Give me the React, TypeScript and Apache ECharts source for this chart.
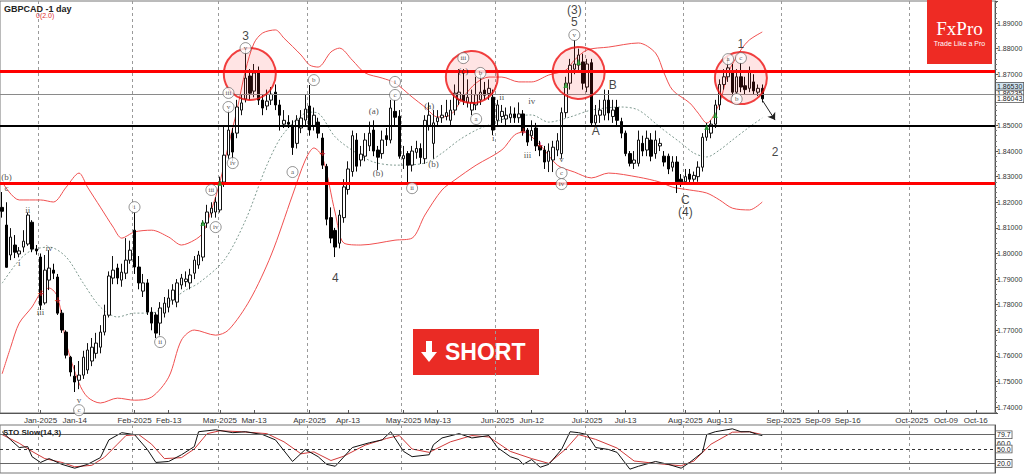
import React, { useEffect, useRef } from "react";
import * as echarts from "echarts";

// ---------- candles (GBPCAD daily) ----------
const openP = [
  1.8180, 1.8111, 1.7994, 1.8033, 1.7998, 1.8025, 1.8037, 1.8122, 1.8017, 1.7986,
  1.7807, 1.7896, 1.7935, 1.7908, 1.7767, 1.7693, 1.7595, 1.7521, 1.7505, 1.7525,
  1.7545, 1.7580, 1.7610, 1.7634, 1.7693, 1.7759, 1.7904, 1.7943, 1.7896, 1.7923,
  1.7974, 1.8091, 1.7947, 1.7853, 1.7885, 1.7771, 1.7760, 1.7728, 1.7767, 1.7790,
  1.7818, 1.7810, 1.7877, 1.7890, 1.7885, 1.7923, 1.7955, 1.7986, 1.8119, 1.8158,
  1.8162, 1.8170, 1.8279, 1.8384, 1.8470, 1.8470, 1.8560, 1.8603, 1.8693, 1.8634,
  1.8712, 1.8599, 1.8576, 1.8599, 1.8630, 1.8580, 1.8505, 1.8512, 1.8500, 1.8430,
  1.8490, 1.8521, 1.8576, 1.8500, 1.8513, 1.8451, 1.8340, 1.8140, 1.8090, 1.8040,
  1.8140, 1.8250, 1.8320, 1.8443, 1.8365, 1.8380, 1.8420, 1.8482, 1.8404, 1.8390,
  1.8460, 1.8443, 1.8555, 1.8536, 1.8370, 1.8390, 1.8345, 1.8395, 1.8410, 1.8370,
  1.8500, 1.8430, 1.8515, 1.8530, 1.8535, 1.8520, 1.8560, 1.8600, 1.8620, 1.8590,
  1.8560, 1.8580, 1.8600, 1.8638, 1.8625, 1.8610, 1.8520, 1.8535, 1.8525, 1.8530,
  1.8545, 1.8530, 1.8545, 1.8482, 1.8460, 1.8490, 1.8420, 1.8404, 1.8360, 1.8365,
  1.8404, 1.8390, 1.8550, 1.8665, 1.8720, 1.8735, 1.8748, 1.8650, 1.8745, 1.8510,
  1.8540, 1.8540, 1.8599, 1.8535, 1.8570, 1.8515, 1.8470, 1.8390, 1.8352, 1.8352,
  1.8430, 1.8404, 1.8443, 1.8390, 1.8420, 1.8380, 1.8380, 1.8337, 1.8357, 1.8290,
  1.8280, 1.8310, 1.8290, 1.8300, 1.8337, 1.8454, 1.8470, 1.8505, 1.8580, 1.8660,
  1.8690, 1.8710, 1.8630, 1.8690, 1.8655, 1.8645, 1.8670, 1.8630, 1.8645,
];
const highP = [
  1.8240, 1.8200, 1.8099, 1.8072, 1.8025, 1.8091, 1.8160, 1.8130, 1.8033, 1.8000,
  1.7994, 1.8013, 1.7960, 1.7920, 1.7780, 1.7700, 1.7600, 1.7564, 1.7580, 1.7620,
  1.7650, 1.7670, 1.7690, 1.7720, 1.7800, 1.7930, 1.7990, 1.7960, 1.7960, 1.8060,
  1.8050, 1.8162, 1.7990, 1.7920, 1.7900, 1.7790, 1.7770, 1.7810, 1.7830, 1.7860,
  1.7880, 1.7900, 1.7920, 1.7930, 1.7940, 1.7990, 1.8010, 1.8130, 1.8190, 1.8200,
  1.8220, 1.8300, 1.8500, 1.8560, 1.8490, 1.8600, 1.8620, 1.8802, 1.8720, 1.8740,
  1.8730, 1.8620, 1.8640, 1.8650, 1.8660, 1.8600, 1.8560, 1.8540, 1.8520, 1.8540,
  1.8560, 1.8620, 1.8658, 1.8570, 1.8530, 1.8470, 1.8350, 1.8180, 1.8100, 1.8170,
  1.8290, 1.8360, 1.8480, 1.8470, 1.8420, 1.8470, 1.8515, 1.8520, 1.8420, 1.8480,
  1.8490, 1.8600, 1.8600, 1.8560, 1.8420, 1.8400, 1.8420, 1.8440, 1.8430, 1.8540,
  1.8590, 1.8560, 1.8560, 1.8580, 1.8600, 1.8600, 1.8660, 1.8720, 1.8720, 1.8680,
  1.8640, 1.8690, 1.8700, 1.8670, 1.8680, 1.8640, 1.8600, 1.8580, 1.8570, 1.8575,
  1.8570, 1.8590, 1.8560, 1.8490, 1.8520, 1.8510, 1.8440, 1.8420, 1.8430, 1.8440,
  1.8470, 1.8570, 1.8690, 1.8760, 1.8834, 1.8800, 1.8780, 1.8760, 1.8760, 1.8580,
  1.8600, 1.8640, 1.8638, 1.8600, 1.8600, 1.8530, 1.8480, 1.8400, 1.8400, 1.8480,
  1.8460, 1.8480, 1.8470, 1.8480, 1.8450, 1.8400, 1.8390, 1.8380, 1.8380, 1.8310,
  1.8330, 1.8330, 1.8320, 1.8360, 1.8470, 1.8510, 1.8520, 1.8600, 1.8680, 1.8720,
  1.8770, 1.8740, 1.8720, 1.8745, 1.8690, 1.8730, 1.8700, 1.8660, 1.8660,
];
const lowP = [
  1.8140, 1.7950, 1.7974, 1.7982, 1.7985, 1.8005, 1.8030, 1.8005, 1.7995, 1.7779,
  1.7800, 1.7857, 1.7900, 1.7760, 1.7690, 1.7590, 1.7520, 1.7459, 1.7470, 1.7510,
  1.7530, 1.7560, 1.7590, 1.7610, 1.7680, 1.7750, 1.7880, 1.7880, 1.7870, 1.7900,
  1.7960, 1.7920, 1.7860, 1.7830, 1.7760, 1.7700, 1.7670, 1.7680, 1.7750, 1.7770,
  1.7800, 1.7790, 1.7860, 1.7870, 1.7860, 1.7900, 1.7940, 1.7970, 1.8100, 1.8140,
  1.8140, 1.8160, 1.8260, 1.8370, 1.8360, 1.8450, 1.8540, 1.8590, 1.8600, 1.8610,
  1.8580, 1.8540, 1.8560, 1.8580, 1.8560, 1.8480, 1.8490, 1.8490, 1.8385, 1.8410,
  1.8470, 1.8500, 1.8460, 1.8480, 1.8450, 1.8330, 1.8110, 1.8040, 1.7986, 1.8020,
  1.8120, 1.8230, 1.8300, 1.8320, 1.8340, 1.8360, 1.8400, 1.8380, 1.8326, 1.8370,
  1.8420, 1.8430, 1.8500, 1.8370, 1.8330, 1.8275, 1.8320, 1.8370, 1.8350, 1.8350,
  1.8480, 1.8370, 1.8500, 1.8510, 1.8520, 1.8500, 1.8540, 1.8580, 1.8580, 1.8570,
  1.8540, 1.8560, 1.8580, 1.8600, 1.8600, 1.8462, 1.8500, 1.8510, 1.8500, 1.8510,
  1.8510, 1.8510, 1.8460, 1.8420, 1.8440, 1.8400, 1.8380, 1.8330, 1.8318, 1.8318,
  1.8380, 1.8370, 1.8530, 1.8640, 1.8700, 1.8710, 1.8640, 1.8630, 1.8500, 1.8502,
  1.8510, 1.8520, 1.8520, 1.8510, 1.8500, 1.8450, 1.8380, 1.8340, 1.8330, 1.8340,
  1.8380, 1.8380, 1.8360, 1.8370, 1.8400, 1.8340, 1.8310, 1.8320, 1.8236, 1.8260,
  1.8270, 1.8270, 1.8280, 1.8280, 1.8320, 1.8440, 1.8450, 1.8490, 1.8560, 1.8640,
  1.8670, 1.8610, 1.8620, 1.8630, 1.8620, 1.8630, 1.8620, 1.8615, 1.8590,
];
const closeP = [
  1.8165, 1.7946, 1.8064, 1.8005, 1.8010, 1.8048, 1.8150, 1.8017, 1.8010, 1.7798,
  1.7935, 1.7943, 1.7923, 1.7767, 1.7701, 1.7603, 1.7537, 1.7498, 1.7525, 1.7595,
  1.7623, 1.7634, 1.7650, 1.7693, 1.7759, 1.7912, 1.7935, 1.7904, 1.7927, 1.7974,
  1.8013, 1.7947, 1.7885, 1.7885, 1.7771, 1.7728, 1.7689, 1.7787, 1.7806, 1.7826,
  1.7857, 1.7885, 1.7904, 1.7900, 1.7916, 1.7974, 1.7994, 1.8119, 1.8162, 1.8177,
  1.8201, 1.8279, 1.8384, 1.8482, 1.8396, 1.8572, 1.8588, 1.8685, 1.8626, 1.8705,
  1.8599, 1.8568, 1.8595, 1.8622, 1.8580, 1.8540, 1.8520, 1.8505, 1.8414, 1.8521,
  1.8529, 1.8564, 1.8482, 1.8540, 1.8470, 1.8345, 1.8134, 1.8060, 1.8025, 1.8150,
  1.8260, 1.8330, 1.8460, 1.8341, 1.8388, 1.8443, 1.8470, 1.8400, 1.8376, 1.8443,
  1.8445, 1.8568, 1.8532, 1.8380, 1.8382, 1.8345, 1.8400, 1.8410, 1.8375, 1.8520,
  1.8540, 1.8510, 1.8530, 1.8540, 1.8550, 1.8560, 1.8626, 1.8630, 1.8595, 1.8610,
  1.8590, 1.8620, 1.8630, 1.8618, 1.8645, 1.8482, 1.8580, 1.8555, 1.8540, 1.8545,
  1.8530, 1.8545, 1.8478, 1.8435, 1.8480, 1.8420, 1.8404, 1.8357, 1.8400, 1.8415,
  1.8440, 1.8550, 1.8665, 1.8735, 1.8740, 1.8775, 1.8665, 1.8740, 1.8510, 1.8540,
  1.8560, 1.8599, 1.8549, 1.8560, 1.8520, 1.8470, 1.8390, 1.8352, 1.8365, 1.8443,
  1.8400, 1.8450, 1.8380, 1.8443, 1.8430, 1.8357, 1.8330, 1.8357, 1.8280, 1.8280,
  1.8300, 1.8290, 1.8305, 1.8337, 1.8454, 1.8490, 1.8505, 1.8580, 1.8660, 1.8690,
  1.8725, 1.8630, 1.8690, 1.8650, 1.8640, 1.8710, 1.8635, 1.8645, 1.8604,
];

// ---------- Bollinger bands (read at sample bars: [bar index, price]) ----------
const upperBand = [
  [0, 1.8279], [4, 1.8209], [9, 1.8209], [12, 1.8201], [15, 1.8259], [18, 1.8314], [20, 1.8259],
  [23, 1.8181], [26, 1.8103], [28, 1.8060], [31, 1.8084], [35, 1.8091], [39, 1.8064], [42, 1.8033],
  [45, 1.8052], [47, 1.8080], [49, 1.8170], [51, 1.8279], [53, 1.8423], [55, 1.8560], [57, 1.8716],
  [59, 1.8822], [61, 1.8861], [64, 1.8873], [66, 1.8841], [70, 1.8775], [72, 1.8736], [74, 1.8728],
  [77, 1.8787], [79, 1.8802], [82, 1.8755], [85, 1.8705], [89, 1.8685], [92, 1.8666], [96, 1.8611],
  [99, 1.8572], [102, 1.8533], [105, 1.8541], [108, 1.8611], [111, 1.8666], [114, 1.8689], [117, 1.8689],
  [121, 1.8670], [124, 1.8670], [128, 1.8697], [132, 1.8716], [134, 1.8755], [137, 1.8795], [142, 1.8806],
  [149, 1.8822], [153, 1.8783], [155, 1.8705], [157, 1.8638], [161, 1.8588], [163, 1.8548], [165, 1.8509],
  [168, 1.8588], [170, 1.8705], [173, 1.8795], [175, 1.8834], [178, 1.8865],
];
const middleBand = [
  [0, 1.7884], [4, 1.7974], [7, 1.8013], [11, 1.8025], [15, 1.7986], [19, 1.7884], [23, 1.7791],
  [27, 1.7752], [31, 1.7767], [35, 1.7767], [39, 1.7810], [43, 1.7857], [46, 1.7884], [52, 1.7974],
  [57, 1.8130], [62, 1.8345], [66, 1.8470], [72, 1.8552], [74, 1.8548], [78, 1.8455], [83, 1.8392],
  [87, 1.8357], [92, 1.8345], [99, 1.8353], [103, 1.8392], [107, 1.8443], [111, 1.8482], [114, 1.8502],
  [119, 1.8533], [124, 1.8541], [128, 1.8513], [133, 1.8533], [138, 1.8560], [145, 1.8572], [149, 1.8560],
  [154, 1.8494], [159, 1.8431], [162, 1.8392], [165, 1.8377], [168, 1.8404], [171, 1.8443], [175, 1.8494],
  [178, 1.8529],
];
const lowerBand = [
  [0, 1.7530], [2, 1.7634], [4, 1.7728], [7, 1.7791], [9, 1.7845], [11, 1.7865], [13, 1.7830],
  [15, 1.7650], [18, 1.7494], [20, 1.7439], [23, 1.7416], [27, 1.7435], [31, 1.7427], [35, 1.7439],
  [39, 1.7517], [42, 1.7662], [45, 1.7701], [50, 1.7681], [53, 1.7701], [58, 1.7818], [63, 1.7994],
  [68, 1.8228], [71, 1.8365], [73, 1.8412], [75, 1.8377], [78, 1.8158], [80, 1.8041], [84, 1.8033],
  [92, 1.8052], [96, 1.8060], [99, 1.8150], [103, 1.8248], [106, 1.8287], [111, 1.8345], [117, 1.8404],
  [120, 1.8463], [122, 1.8474], [126, 1.8423], [130, 1.8345], [134, 1.8318], [138, 1.8295], [142, 1.8314],
  [149, 1.8298], [154, 1.8279], [157, 1.8259], [161, 1.8248], [165, 1.8236], [168, 1.8209], [171, 1.8177],
  [175, 1.8170], [178, 1.8201],
];

// ---------- Stochastic slow (14,3) ----------
const stochK = [
  [0, 86], [2, 69], [4, 53], [6, 55], [7, 34], [9, 22], [11, 30], [14, 18], [17, 10], [20, 18],
  [23, 32], [25, 69], [28, 84], [31, 80], [34, 49], [36, 22], [39, 24], [42, 38], [45, 55], [46, 86],
  [50, 90], [54, 84], [57, 86], [61, 80], [64, 69], [68, 24], [71, 49], [74, 34], [76, 18], [78, 14],
  [82, 53], [86, 63], [89, 69], [91, 86], [94, 45], [96, 34], [100, 38], [101, 59], [103, 73], [107, 82],
  [110, 73], [114, 78], [116, 53], [119, 34], [121, 28], [122, 18], [124, 28], [126, 12], [128, 18], [131, 49],
  [133, 86], [135, 84], [137, 80], [139, 53], [142, 49], [144, 43], [147, 8], [149, 14], [153, 24], [156, 18],
  [159, 10], [161, 22], [164, 43], [165, 80], [167, 86], [171, 92], [173, 86], [175, 86], [177, 80], [178, 78],
];
const stochD = [
  [0, 80], [4, 62], [7, 45], [10, 30], [14, 22], [17, 13], [21, 16], [24, 33], [27, 60], [29, 78],
  [32, 80], [35, 60], [38, 30], [42, 32], [45, 50], [48, 82], [51, 88], [56, 86], [62, 82], [66, 65],
  [70, 40], [73, 44], [77, 26], [80, 35], [85, 58], [90, 72], [93, 78], [96, 50], [100, 43], [105, 65],
  [110, 78], [114, 75], [119, 45], [124, 30], [128, 20], [132, 50], [135, 80], [139, 70], [144, 52], [148, 25],
  [153, 20], [159, 15], [162, 25], [166, 60], [171, 85], [175, 86], [178, 80],
];
const stochLevels = [79.7, 50, 20];

// ---------- axis ticks ----------
const tickDates = [
  "2025-01-02", "2025-01-14", "2025-02-03", "2025-02-13", "2025-03-03", "2025-03-13", "2025-04-01",
  "2025-04-14", "2025-05-01", "2025-05-13", "2025-06-02", "2025-06-12", "2025-07-01", "2025-07-14",
  "2025-08-01", "2025-08-13", "2025-09-01", "2025-09-09", "2025-09-16", "2025-10-01", "2025-10-09",
  "2025-10-16",
];
const tickLabels = [
  "Jan-2025", "Jan-14", "Feb-2025", "Feb-13", "Mar-2025", "Mar-13", "Apr-2025", "Apr-13", "May-2025",
  "May-13", "Jun-2025", "Jun-12", "Jul-2025", "Jul-13", "Aug-2025", "Aug-13", "Sep-2025", "Sep-09",
  "Sep-16", "Oct-2025", "Oct-09", "Oct-16",
];
const monthLineDates = [
  "2025-01-02", "2025-02-03", "2025-03-03", "2025-04-01", "2025-05-01", "2025-06-02", "2025-07-01",
  "2025-08-01", "2025-09-01", "2025-10-01",
];
// axis price hidden behind the price tags in the reference
const coveredPriceLabel = 1.86;

// ---------- levels ----------
const resistance = 1.871;
const support = 1.8275;
const pivot = 1.85;
const lastLine = 1.86235;
const priceTags = [1.8653, 1.86043];
const arrowFrom = [178, 1.8599];
const arrowTo = [181, 1.8521];

// ---------- annotations ----------
const waveLabels = [
  { t: "3", i: 57, p: 1.8849 }, { t: "4", i: 78, p: 1.7904 }, { t: "(3)", i: 134, p: 1.8951 },
  { t: "5", i: 134, p: 1.8904 }, { t: "A", i: 139, p: 1.8478 }, { t: "B", i: 143, p: 1.8658 },
  { t: "C", i: 160, p: 1.8209 }, { t: "(4)", i: 160, p: 1.8162 }, { t: "1", i: 173, p: 1.8818 },
  { t: "2", i: 181, p: 1.8396 },
];
const circledLabels = [
  { t: "i", i: 31, p: 1.8181 }, { t: "ii", i: 37, p: 1.7654 }, { t: "iii", i: 49, p: 1.8248 },
  { t: "iv", i: 50, p: 1.8103 }, { t: "v", i: 57, p: 1.8802 }, { t: "iii", i: 53, p: 1.8627 },
  { t: "v", i: 53, p: 1.8572 }, { t: "iv", i: 54, p: 1.8353 }, { t: "a", i: 68, p: 1.8318 },
  { t: "b", i: 73, p: 1.8677 }, { t: "i", i: 92, p: 1.8670 }, { t: "c", i: 92, p: 1.8619 },
  { t: "ii", i: 96, p: 1.8255 }, { t: "iii", i: 108, p: 1.8763 }, { t: "b", i: 112, p: 1.8705 },
  { t: "a", i: 111, p: 1.8525 }, { t: "c", i: 131, p: 1.8314 }, { t: "iv", i: 131, p: 1.8271 },
  { t: "v", i: 134, p: 1.8853 }, { t: "a", i: 170, p: 1.8759 }, { t: "c", i: 173, p: 1.8763 },
  { t: "b", i: 172, p: 1.8603 }, { t: "c", i: 18, p: 1.7388 },
];
const smallLabels = [
  { t: "(b)", i: 1, p: 1.8298 }, { t: "c", i: 1, p: 1.8255 }, { t: "ii", i: 6, p: 1.8170 },
  { t: "i", i: 4, p: 1.7963 }, { t: "iii", i: 9, p: 1.7771 }, { t: "iv", i: 11, p: 1.8021 },
  { t: "v", i: 18, p: 1.7427 }, { t: "(a)", i: 87, p: 1.8556 }, { t: "(b)", i: 88, p: 1.8314 },
  { t: "(a)", i: 100, p: 1.8576 }, { t: "(b)", i: 101, p: 1.8349 }, { t: "(c)", i: 108, p: 1.8713 },
  { t: "i", i: 115, p: 1.8451 }, { t: "ii", i: 117, p: 1.8611 }, { t: "iv", i: 124, p: 1.8595 },
  { t: "iii", i: 123, p: 1.8384 }, { t: "v", i: 131, p: 1.8369 },
];
const focusCircles = [
  [58, 1.8701], [110, 1.8689], [135, 1.8705], [173, 1.8685],
];
const greenArrows = [
  [47, 1.8119], [51, 1.8275], [132, 1.8658], [135, 1.8748], [165, 1.8494], [167, 1.8541],
];
const redCrosses = [
  [9, 1.7845], [13, 1.7818], [75, 1.8392], [122, 1.8478], [126, 1.8420],
];

function buildCategories(): string[] {
  const out: string[] = [];
  const d = new Date(Date.UTC(2024, 11, 18));
  const lastBar = Date.UTC(2025, 7, 27);
  const end = Date.UTC(2025, 9, 20);
  const closed = ["2024-12-25", "2025-01-01"];
  while (d.getTime() <= end) {
    const s = d.toISOString().slice(0, 10);
    const wd = d.getUTCDay();
    if (d.getTime() > lastBar || (wd !== 0 && wd !== 6 && closed.indexOf(s) < 0)) out.push(s);
    d.setUTCDate(d.getUTCDate() + 1);
  }
  return out;
}

const FONT = "Liberation Sans, Arial, sans-serif";
const SERIF = "Liberation Serif, Times New Roman, serif";
const CLEAR = "rgba(0,0,0,0)";

export default function App() {
  const ref = useRef<HTMLDivElement>(null);
  useEffect(() => {
    if (!ref.current) return;
    const chart = echarts.init(ref.current, null, { renderer: "svg" });
    const cats = buildCategories();
    const labelMap: Record<string, string> = {};
    tickDates.forEach((d, k) => (labelMap[d] = tickLabels[k]));
    const isTick = (_i: number, v: string) => labelMap[v] !== undefined;
    const isMonth = (_i: number, v: string) => monthLineDates.indexOf(v) >= 0;

    const tag = (bg: string, text: string) => ({
      show: true,
      position: "end",
      distance: 1,
      formatter: text,
      fontSize: 7,
      fontFamily: FONT,
      color: "#222",
      backgroundColor: bg,
      borderColor: "#555",
      borderWidth: 0.8,
      padding: [0, 1, 0, 1],
    });

    const candles = openP.map((o, i) => [o, closeP[i], lowP[i], highP[i]]);
    const splitLine = {
      show: true,
      interval: isMonth,
      lineStyle: { color: "#9a9a9a", type: [3, 3], width: 1 },
    };
    const textScatter = (name: string, items: { t: string; i: number; p: number }[], label: any, z: number) => ({
      type: "scatter",
      name,
      xAxisIndex: 0,
      yAxisIndex: 0,
      data: items.map((w) => ({ name: w.t, value: [w.i, w.p] })),
      symbol: "circle",
      symbolSize: 2,
      itemStyle: { color: CLEAR, borderColor: CLEAR },
      label: { show: true, position: "inside", formatter: "{b}", textBorderWidth: 0, textBorderColor: CLEAR, ...label },
      z,
      silent: true,
    });

    chart.setOption({
      animation: false,
      backgroundColor: "#ffffff",
      textStyle: { fontFamily: FONT },
      grid: [
        { left: 0, top: 1, width: 995, height: 412, show: true, borderColor: "#777", borderWidth: 1, backgroundColor: "#fff", outerBoundsMode: "none", containLabel: false },
        { left: 0, top: 425, width: 995, height: 48, show: true, borderColor: "#777", borderWidth: 1, backgroundColor: "#fff", outerBoundsMode: "none", containLabel: false },
      ],
      xAxis: [
        {
          type: "category",
          gridIndex: 0,
          data: cats,
          boundaryGap: true,
          axisLine: { show: true, lineStyle: { color: "#555" } },
          axisTick: { show: true, inside: true, length: 3, interval: isTick, alignWithLabel: true, lineStyle: { color: "#555" } },
          axisLabel: { show: true, interval: isTick, formatter: (v: string) => labelMap[v] || "", fontSize: 8, color: "#333", margin: 3, fontFamily: FONT },
          splitLine,
        },
        {
          type: "category",
          gridIndex: 1,
          data: cats,
          boundaryGap: true,
          axisLine: { show: false },
          axisTick: { show: false },
          axisLabel: { show: false },
          splitLine,
        },
      ],
      yAxis: [
        {
          type: "value",
          gridIndex: 0,
          position: "right",
          min: 1.7377,
          max: 1.8986,
          splitNumber: 16,
          axisLine: { show: true, lineStyle: { color: "#555" } },
          axisTick: { show: true, length: 3, lineStyle: { color: "#555" } },
          minorTick: { show: true, splitNumber: 5, length: 2, lineStyle: { color: "#777" } },
          axisLabel: {
            formatter: (v: number) => (Math.abs(v - coveredPriceLabel) < 1e-6 ? "" : v.toFixed(5)),
            fontSize: 7,
            color: "#333",
            margin: 2,
            showMinLabel: false,
            showMaxLabel: false,
            fontFamily: FONT,
          },
          splitLine: { show: false },
        },
        {
          type: "value",
          gridIndex: 1,
          position: "right",
          min: 0,
          max: 100,
          axisLine: { show: true, lineStyle: { color: "#555" } },
          axisTick: { show: false },
          axisLabel: { show: false },
          splitLine: { show: false },
        },
      ],
      series: [
        {
          type: "line",
          name: "upper",
          xAxisIndex: 0,
          yAxisIndex: 0,
          data: upperBand,
          symbol: "none",
          smooth: 0.3,
          lineStyle: { color: "#f05050", width: 1 },
          z: 2,
        },
        {
          type: "line",
          name: "lower",
          xAxisIndex: 0,
          yAxisIndex: 0,
          data: lowerBand,
          symbol: "none",
          smooth: 0.3,
          lineStyle: { color: "#f05050", width: 1 },
          z: 2,
        },
        {
          type: "line",
          name: "middle",
          xAxisIndex: 0,
          yAxisIndex: 0,
          data: middleBand,
          symbol: "none",
          smooth: 0.3,
          lineStyle: { color: "#7f9a90", width: 1, type: [2, 2] },
          z: 2,
        },
        {
          type: "candlestick",
          name: "GBPCAD",
          xAxisIndex: 0,
          yAxisIndex: 0,
          data: candles,
          barWidth: 3,
          itemStyle: { color: "#ffffff", color0: "#000000", borderColor: "#111", borderColor0: "#000", borderWidth: 1 },
          z: 4,
          markLine: {
            silent: true,
            symbol: ["none", "none"],
            precision: 5,
            data: [
              { yAxis: resistance, lineStyle: { color: "#ff0000", width: 3, type: "solid" }, label: { show: false } },
              { yAxis: support, lineStyle: { color: "#ff0000", width: 3, type: "solid" }, label: { show: false } },
              { yAxis: pivot, lineStyle: { color: "#000000", width: 2, type: "solid" }, label: { show: false } },
              { yAxis: lastLine, lineStyle: { color: "#8a8a8a", width: 1, type: "solid" }, label: tag("#ffffff", lastLine.toFixed(5)) },
              { yAxis: priceTags[0], lineStyle: { color: CLEAR, width: 0.1 }, label: tag("#cfe2f0", priceTags[0].toFixed(5)) },
              { yAxis: priceTags[1], lineStyle: { color: CLEAR, width: 0.1 }, label: tag("#ffffff", priceTags[1].toFixed(5)) },
              [
                { coord: arrowFrom, symbol: "none", lineStyle: { color: "#222", width: 1, type: "solid" }, label: { show: false } },
                { coord: arrowTo, symbol: "arrow", symbolSize: 7 },
              ],
            ],
          },
        },
        {
          type: "scatter",
          name: "focus",
          xAxisIndex: 0,
          yAxisIndex: 0,
          data: focusCircles,
          symbol: "circle",
          symbolSize: 52,
          itemStyle: { color: "rgba(255,60,60,0.17)", borderColor: "#ee1111", borderWidth: 2 },
          z: 6,
          silent: true,
        },
        {
          type: "scatter",
          name: "green",
          xAxisIndex: 0,
          yAxisIndex: 0,
          data: greenArrows,
          symbol: "triangle",
          symbolSize: [5, 6],
          itemStyle: { color: "#1f9a2a" },
          z: 7,
        },
        {
          type: "scatter",
          name: "crosses",
          xAxisIndex: 0,
          yAxisIndex: 0,
          data: redCrosses,
          symbolSize: 2,
          itemStyle: { color: CLEAR, borderColor: CLEAR },
          label: { show: true, position: "inside", formatter: "+", color: "#d02020", fontSize: 10, fontWeight: "bold", textBorderWidth: 0 },
          z: 7,
          silent: true,
        },
        textScatter("waves", waveLabels, { color: "#111", fontSize: 12, fontFamily: FONT }, 8),
        {
          type: "scatter",
          name: "circled",
          xAxisIndex: 0,
          yAxisIndex: 0,
          data: circledLabels.map((w) => ({ name: w.t, value: [w.i, w.p] })),
          symbol: "circle",
          symbolSize: 11,
          itemStyle: { color: "#ffffff", borderColor: "#555", borderWidth: 0.8 },
          label: { show: true, position: "inside", formatter: "{b}", color: "#222", fontSize: 7, fontFamily: SERIF, textBorderWidth: 0 },
          z: 8,
          silent: true,
        },
        textScatter("small", smallLabels, { color: "#222", fontSize: 9, fontFamily: SERIF }, 8),
        {
          type: "line",
          name: "%K",
          xAxisIndex: 1,
          yAxisIndex: 1,
          data: stochK,
          symbol: "none",
          lineStyle: { color: "#111", width: 1 },
          z: 4,
          markLine: {
            silent: true,
            symbol: ["none", "none"],
            data: [
              { yAxis: stochLevels[0], lineStyle: { color: "#666", width: 1, type: "solid" }, label: tag("#fff", "79.7") },
              { yAxis: 62, lineStyle: { color: CLEAR, width: 0.1 }, label: { ...tag(CLEAR, "60.0"), borderWidth: 0 } },
              { yAxis: stochLevels[1], lineStyle: { color: "#333", width: 1, type: [3, 3] }, label: tag("#fff", "50.0") },
              { yAxis: stochLevels[2], lineStyle: { color: "#666", width: 1, type: "solid" }, label: tag("#fff", "20.0") },
            ],
          },
        },
        {
          type: "line",
          name: "%D",
          xAxisIndex: 1,
          yAxisIndex: 1,
          data: stochD,
          symbol: "none",
          lineStyle: { color: "#d03a3a", width: 1 },
          z: 3,
        },
      ],
      graphic: [
        { type: "text", left: 4, top: 4, style: { text: "GBPCAD -1 day", fontSize: 9, fontWeight: "bold", fill: "#222", fontFamily: FONT } },
        { type: "text", left: 36, top: 12, style: { text: "0(2.0)", fontSize: 7, fill: "#e03030", fontFamily: FONT } },
        { type: "text", left: 3, top: 428, z: 10, style: { text: "STO Slow(14,3)", fontSize: 8, fontWeight: "bold", fill: "#222", fontFamily: FONT } },
        {
          type: "group",
          left: 927,
          top: 0,
          children: [
            { type: "rect", shape: { x: 0, y: 0, width: 65, height: 64 }, style: { fill: "#ee2b24" } },
            { type: "text", x: 32.5, y: 28, style: { text: "FxPro", fontSize: 19, fill: "#fff", fontFamily: SERIF, align: "center", verticalAlign: "middle" } },
            { type: "text", x: 32.5, y: 43, style: { text: "Trade Like a Pro", fontSize: 7, fill: "#fff", fontFamily: FONT, align: "center", verticalAlign: "middle" } },
          ],
        },
        {
          type: "group",
          left: 413,
          top: 329,
          children: [
            { type: "rect", shape: { x: 0, y: 0, width: 126, height: 46 }, style: { fill: "#ea2b25" } },
            { type: "rect", shape: { x: 13, y: 12, width: 6, height: 12 }, style: { fill: "#fff" } },
            { type: "polygon", shape: { points: [[8, 23], [24, 23], [16, 33]] }, style: { fill: "#fff" } },
            { type: "text", x: 32, y: 23, style: { text: "SHORT", fontSize: 23, fontWeight: "bold", fill: "#fff", fontFamily: FONT, verticalAlign: "middle" } },
          ],
        },
      ],
    });
    return () => chart.dispose();
  }, []);
  return <div ref={ref} style={{ position: "fixed", left: 0, top: 0, width: 1024, height: 474 }} />;
}
